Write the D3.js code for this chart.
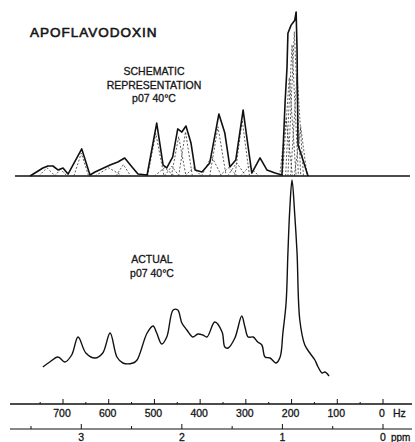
<!DOCTYPE html>
<html>
<head>
<meta charset="utf-8">
<script src="https://cdn.jsdelivr.net/npm/d3@7"></script>
<style>
body { margin: 0; background: #fff; }
svg text { font-family: "Liberation Sans", Arial, sans-serif; fill: #151515; stroke: #151515; stroke-width: 0.3; }
</style>
</head>
<body>
<svg id="chart" width="415" height="442"></svg>
<script>
// schematic envelope, [Hz, relative intensity]
let schematicEnvelope = [
    [772, 0], [744, 4.9], [733, 6.1], [722, 6.1], [711, 3.7], [700, 4.9], [689, 1.2],
    [659, 16.5], [641, 0.6], [630, 2.4], [597, 6.7], [580, 8.5], [565, 11], [549, 5.5],
    [536, 1.2], [516, 0.6], [495, 32.3], [481, 6.7], [473, 4.9], [460, 11.6], [449, 28.7],
    [440, 26.8], [431, 30.5], [420, 20.1], [411, 3.7], [396, 2.4], [379, 7.9], [359, 37.8],
    [346, 26.2], [335, 5.5], [322, 9.8], [306, 40.2], [295, 17.7], [287, 1.8], [269, 11],
    [254, 3.7], [236, 1.8], [221, 0.6], [214, 46], [210, 66], [208, 87], [201, 92],
    [197, 93.5], [193, 95], [190, 100], [188, 77], [186, 19], [175, 9.8], [164, 0]
];

// individual resonances of the schematic (dashed triangles)
let componentCenter = [735, 705, 660, 600, 568, 497, 478, 462, 447, 432, 415, 375, 361, 338, 320, 308, 292, 212, 205, 199, 194, 188, 180];
let componentHeight = [5, 4, 14, 5, 7, 26, 5, 6, 24, 27, 5, 12, 30, 5, 8, 34, 6, 35, 60, 80, 88, 62, 30];
let componentHalfWidth = [18, 14, 16, 30, 16, 18, 22, 16, 16, 15, 18, 22, 18, 20, 20, 16, 20, 14, 15, 14, 14, 14, 14];

// observed spectrum, Hz and intensity
let actualHz = [744, 729, 711, 696, 681, 667, 650, 630, 613, 597, 582, 569, 547, 538, 516, 503, 495, 484, 473, 459, 449, 440, 429, 416, 405, 394, 385, 368, 352, 346, 339, 324, 309, 302, 295, 284, 274, 265, 258, 247, 234, 225, 219, 212, 208, 204, 199, 193, 188, 182, 171, 160, 149, 142, 133, 127, 118];
let actualVal = [6.5, 9, 11.5, 9, 12.5, 21.5, 13.5, 11, 13.5, 23.5, 11.5, 8.5, 8.5, 10, 23.5, 27, 23.5, 18, 21.5, 35, 35, 28.5, 25, 21.5, 23, 22.5, 21.5, 29, 24, 16.5, 16, 21, 32, 26.5, 21.5, 21.5, 19, 17.5, 11.5, 11, 8.5, 11.5, 23.5, 38.5, 63.5, 85, 100, 82.5, 63.5, 30, 17.5, 13.5, 10, 6.5, 3.5, 4, 2];

// axes
let hzTicks = [0, 100, 200, 300, 400, 500, 600, 700];
let hzMinor = [50, 150, 250, 350, 450, 550, 650, 750];
let ppmTicks = [0, 1, 2, 3];
let ppmMinor = [0.5, 1.5, 2.5, 3.5];

const svg = d3.select('#chart');

let xHz = d3.scaleLinear().domain([0, 700]).range([383, 63]);
// 220 MHz: 1 ppm = 220 Hz
let xPpm = d3.scaleLinear().domain([0, 3]).range([383, xHz(660)]);
let yTop = d3.scaleLinear().domain([0, 100]).range([176, 12]);
let yBot = d3.scaleLinear().domain([0, 100]).range([380, 180]);

// titles
svg.append('text')
    .attr('x', 30).attr('y', 37)
    .attr('font-size', 13.5)
    .attr('letter-spacing', 1)
    .style('stroke-width', 0.6)
    .text('APOFLAVODOXIN');

let topLabel = ['SCHEMATIC', 'REPRESENTATION', 'p07 40°C'];
svg.selectAll('text.top-label')
    .data(topLabel)
    .join('text')
    .classed('top-label', true)
    .attr('x', 154)
    .attr('y', (d, i) => 75 + i * 13.5)
    .attr('text-anchor', 'middle')
    .attr('font-size', 10.5)
    .text(d => d);

let botLabel = ['ACTUAL', 'p07 40°C'];
svg.selectAll('text.bot-label')
    .data(botLabel)
    .join('text')
    .classed('bot-label', true)
    .attr('x', 152)
    .attr('y', (d, i) => 263 + i * 14)
    .attr('text-anchor', 'middle')
    .attr('font-size', 10.5)
    .text(d => d);

// schematic baseline
svg.append('line')
    .attr('x1', 15).attr('x2', 410)
    .attr('y1', yTop(0)).attr('y2', yTop(0))
    .attr('stroke', '#111')
    .attr('stroke-width', 1.6);

// component triangles
let comps = componentCenter.map((c, i) => ({c: c, h: componentHeight[i], w: componentHalfWidth[i]}));
let triLine = d3.line().x(d => xHz(d[0])).y(d => yTop(d[1]));
svg.selectAll('path.comp')
    .data(comps)
    .join('path')
    .classed('comp', true)
    .attr('d', d => triLine([[d.c + d.w, 0], [d.c, d.h], [d.c - d.w, 0]]))
    .attr('fill', 'none')
    .attr('stroke', '#333')
    .attr('stroke-width', 0.8)
    .attr('stroke-dasharray', '2,1.8');

// envelope
svg.append('path')
    .datum(schematicEnvelope)
    .attr('d', triLine)
    .attr('fill', 'none')
    .attr('stroke', '#111')
    .attr('stroke-width', 1.6)
    .attr('stroke-linejoin', 'round');

// actual spectrum
let actual = actualHz.map((h, i) => [h, actualVal[i]]);
let specLine = d3.line()
    .x(d => xHz(d[0]))
    .y(d => yBot(d[1]))
    .curve(d3.curveCatmullRom.alpha(0.5));
svg.append('path')
    .datum(actual)
    .attr('d', specLine)
    .attr('fill', 'none')
    .attr('stroke', '#111')
    .attr('stroke-width', 1.4)
    .attr('stroke-linejoin', 'round');

// Hz axis
let hzG = svg.append('g').attr('transform', 'translate(0,404)');
hzG.append('line').attr('x1', 10).attr('x2', 412).attr('stroke', '#111').attr('stroke-width', 1.4);
hzG.selectAll('line.major')
    .data(hzTicks)
    .join('line')
    .classed('major', true)
    .attr('x1', d => xHz(d)).attr('x2', d => xHz(d))
    .attr('y1', 0).attr('y2', -5)
    .attr('stroke', '#111');
hzG.selectAll('line.minor')
    .data(hzMinor)
    .join('line')
    .classed('minor', true)
    .attr('x1', d => xHz(d)).attr('x2', d => xHz(d))
    .attr('y1', 0).attr('y2', -2)
    .attr('stroke', '#111');
hzG.selectAll('text')
    .data(hzTicks)
    .join('text')
    .attr('x', d => xHz(d) - 1)
    .attr('y', 13)
    .attr('text-anchor', 'middle')
    .attr('font-size', 10.5)
    .text(d => d);
hzG.append('text')
    .attr('x', 393).attr('y', 13)
    .attr('font-size', 10.5)
    .text('Hz');

// ppm axis
let ppmG = svg.append('g').attr('transform', 'translate(0,429)');
ppmG.append('line').attr('x1', 10).attr('x2', 412).attr('stroke', '#111').attr('stroke-width', 1.1);
ppmG.selectAll('line.major')
    .data(ppmTicks)
    .join('line')
    .classed('major', true)
    .attr('x1', d => xPpm(d)).attr('x2', d => xPpm(d))
    .attr('y1', 0).attr('y2', -5)
    .attr('stroke', '#111');
ppmG.selectAll('line.minor')
    .data(ppmMinor)
    .join('line')
    .classed('minor', true)
    .attr('x1', d => xPpm(d)).attr('x2', d => xPpm(d))
    .attr('y1', 0).attr('y2', -3)
    .attr('stroke', '#111');
ppmG.selectAll('text')
    .data(ppmTicks)
    .join('text')
    .attr('x', d => xPpm(d))
    .attr('y', 12)
    .attr('text-anchor', 'middle')
    .attr('font-size', 10.5)
    .text(d => d);
ppmG.append('text')
    .attr('x', 391).attr('y', 12)
    .attr('font-size', 10)
    .text('ppm');
</script>
</body>
</html>
